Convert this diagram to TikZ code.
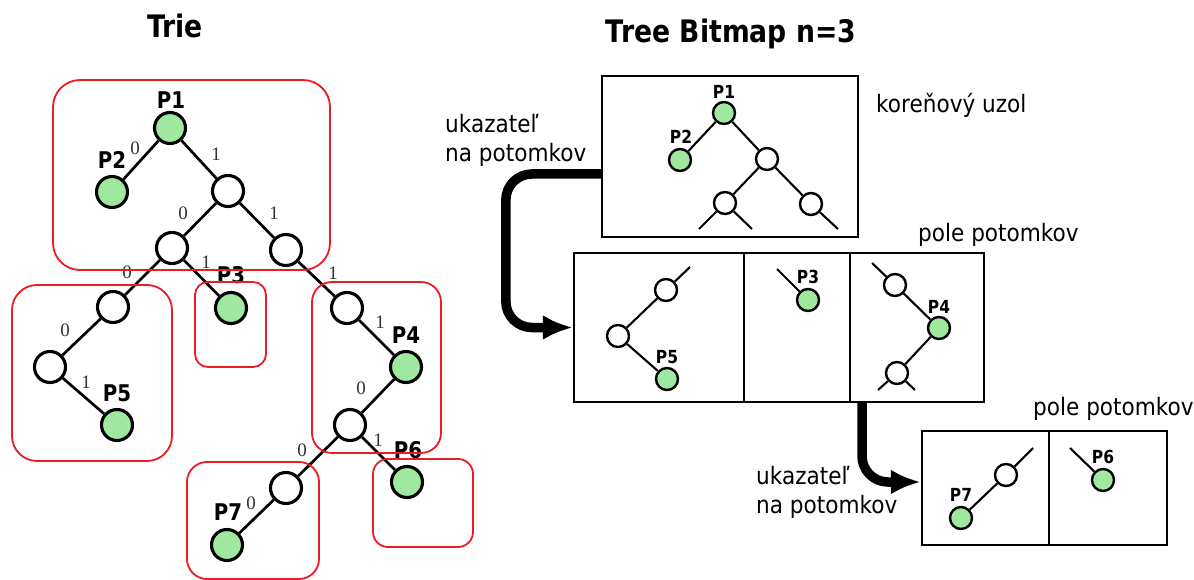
\documentclass[tikz,border=0pt]{standalone}
\usepackage{fontspec}
\newfontfamily\labfont[FakeStretch=0.9]{DejaVu Sans}
\newfontfamily\headfont[FakeStretch=0.86]{DejaVu Sans}
\newfontfamily\digitfont{Liberation Serif}
\usetikzlibrary{arrows.meta}
\definecolor{prefgreen}{RGB}{160,232,160}
\definecolor{boxred}{RGB}{236,28,36}
\definecolor{edgegray}{RGB}{50,50,50}

\begin{document}
\begin{tikzpicture}[x=1pt,y=-1pt,
  tnode/.style={circle,draw=black,line width=3.1pt,minimum size=31pt,inner sep=0pt},
  tpref/.style={tnode,fill=prefgreen},
  tempty/.style={tnode,fill=white},
  tedge/.style={line width=2.7pt},
  blab/.style={font=\headfont\bfseries\fontsize{23}{23}\selectfont,inner sep=0pt},
  bit/.style={font=\digitfont\fontsize{19}{19}\selectfont,text=edgegray,inner sep=0pt},
  group/.style={draw=boxred,line width=1.8pt},
  snode/.style={circle,draw=black,line width=2.4pt,minimum size=22pt,inner sep=0pt},
  spref/.style={snode,fill=prefgreen},
  sempty/.style={snode,fill=white},
  sedge/.style={line width=2.1pt},
  slab/.style={font=\headfont\bfseries\fontsize{18}{18}\selectfont,inner sep=0pt},
  frame/.style={draw=black,line width=2.3pt,inner sep=0pt},
  note/.style={font=\labfont\fontsize{24}{29}\selectfont,inner sep=0pt,align=left},
  title/.style={font=\headfont\bfseries\fontsize{31}{31}\selectfont,inner sep=0pt},
  ptr/.style={line width=9.5pt,-{Latex[length=30pt,width=25pt]},rounded corners=26pt},
]
\useasboundingbox (0,0) rectangle (1194,580);

% ---------- titles ----------
\node[title,anchor=base] (trieT) at (175,38) {Trie};
\node[title,anchor=base] (tbT) at (731,43) {Tree Bitmap n=3};

% ---------- binary trie ----------
\node[tpref]  (P1) at (170,128) {};
\node[tpref]  (P2) at (112,192) {};
\node[tempty] (A)  at (228,191) {};
\node[tempty] (B)  at (172,248) {};
\node[tempty] (C)  at (286,250) {};
\node[tempty] (D)  at (113,307) {};
\node[tpref]  (P3) at (231,308) {};
\node[tempty] (E)  at (347,308) {};
\node[tempty] (F)  at (50,367) {};
\node[tpref]  (P4) at (406,367) {};
\node[tpref]  (P5) at (117,425) {};
\node[tempty] (G)  at (350,425) {};
\node[tempty] (H)  at (286,488) {};
\node[tpref]  (P6) at (407,482) {};
\node[tpref]  (P7) at (227,545) {};

\draw[tedge] (P1) -- (P2);
\draw[tedge] (P1) -- (A);
\draw[tedge] (A) -- (B);
\draw[tedge] (A) -- (C);
\draw[tedge] (B) -- (D);
\draw[tedge] (B) -- (P3);
\draw[tedge] (C) -- (E);
\draw[tedge] (D) -- (F);
\draw[tedge] (F) -- (P5);
\draw[tedge] (E) -- (P4);
\draw[tedge] (P4) -- (G);
\draw[tedge] (G) -- (H);
\draw[tedge] (G) -- (P6);
\draw[tedge] (H) -- (P7);

% bit labels on the trie edges
\node[bit] (b1)  at (135,148) {0};
\node[bit] (b2)  at (216,154) {1};
\node[bit] (b3)  at (183,213) {0};
\node[bit] (b4)  at (274,213) {1};
\node[bit] (b5)  at (127,272) {0};
\node[bit] (b6)  at (206,262) {1};
\node[bit] (b7)  at (333,273) {1};
\node[bit] (b8)  at (65,330)  {0};
\node[bit] (b9)  at (86,382)  {1};
\node[bit] (b10) at (380,322) {1};
\node[bit] (b11) at (361,388) {0};
\node[bit] (b12) at (302,450) {0};
\node[bit] (b13) at (378,440) {1};
\node[bit] (b14) at (251,503) {0};

% prefix names
\node[blab] (lP1) at (171,100) {P1};
\node[blab] (lP2) at (112,160) {P2};
\node[blab] (lP3) at (231,275) {P3};
\node[blab] (lP4) at (406,335) {P4};
\node[blab] (lP5) at (117,393) {P5};
\node[blab] (lP6) at (408,450) {P6};
\node[blab] (lP7) at (228,512) {P7};

% stride groups
\draw[group,rounded corners=27pt] (53,80) rectangle (330,270);
\draw[group,rounded corners=25pt] (12,285) rectangle (172,461);
\draw[group,rounded corners=13pt] (195,282) rectangle (266,367);
\draw[group,rounded corners=20pt] (312,282) rectangle (441,453);
\draw[group,rounded corners=15pt] (373,459) rectangle (473,547);
\draw[group,rounded corners=20pt] (187,462) rectangle (319,579);

% ---------- tree bitmap ----------
\node[frame,minimum width=256pt,minimum height=161pt] (root) at (730,156.5) {};
\node[frame,minimum width=410pt,minimum height=149pt] (mid) at (779,327.5) {};
\node[frame,minimum width=245pt,minimum height=114pt] (bot) at (1044.5,488) {};
\draw[frame] (744,253) -- (744,402);
\draw[frame] (850,253) -- (850,402);
\draw[frame] (1049,431) -- (1049,545);

% root node
\node[spref]  (rP1) at (724,113) {};
\node[spref]  (rP2) at (680,160) {};
\node[sempty] (ra)  at (767,159) {};
\node[sempty] (rb)  at (725,203) {};
\node[sempty] (rc)  at (811,204) {};
\coordinate (rb1) at (699,229);
\coordinate (rb2) at (752,229);
\coordinate (rc1) at (838,229);
\draw[sedge] (rP1) -- (rP2);
\draw[sedge] (rP1) -- (ra);
\draw[sedge] (ra) -- (rb);
\draw[sedge] (ra) -- (rc);
\draw[sedge] (rb) -- (rb1);
\draw[sedge] (rb) -- (rb2);
\draw[sedge] (rc) -- (rc1);
\node[slab] (rlP1) at (724,92) {P1};
\node[slab] (rlP2) at (681,137) {P2};

% first child array
\node[sempty] (m1)  at (666,290) {};
\node[sempty] (m2)  at (618,336) {};
\node[spref]  (mP5) at (667,379) {};
\coordinate (m1s) at (690,267);
\draw[sedge] (m1) -- (m1s);
\draw[sedge] (m1) -- (m2);
\draw[sedge] (m2) -- (mP5);
\node[slab] (mlP5) at (667,357) {P5};

\node[spref] (mP3) at (808,300) {};
\coordinate (m3s) at (777,269);
\draw[sedge] (mP3) -- (m3s);
\node[slab] (mlP3) at (808,277) {P3};

\node[sempty] (n1)  at (895,285) {};
\node[spref]  (mP4) at (939,328) {};
\node[sempty] (n2)  at (897,373) {};
\coordinate (n1s) at (872,263);
\coordinate (n2a) at (878,390);
\coordinate (n2b) at (915,390);
\draw[sedge] (n1) -- (n1s);
\draw[sedge] (n1) -- (mP4);
\draw[sedge] (mP4) -- (n2);
\draw[sedge] (n2) -- (n2a);
\draw[sedge] (n2) -- (n2b);
\node[slab] (mlP4) at (939,307) {P4};

% second child array
\node[sempty] (w)   at (1006,475) {};
\node[spref]  (bP7) at (961,518) {};
\coordinate (ws) at (1033,448);
\draw[sedge] (w) -- (ws);
\draw[sedge] (w) -- (bP7);
\node[slab] (blP7) at (961,495) {P7};

\node[spref] (bP6) at (1103,480) {};
\coordinate (b6s) at (1070,448);
\draw[sedge] (bP6) -- (b6s);
\node[slab] (blP6) at (1103,457) {P6};

% child pointers
\draw[ptr] ([yshift=-17.5pt]root.west) -| ([xshift=-67pt]mid.west) -- (mid.west);
\draw[ptr] ([xshift=83pt]mid.south) |- ([yshift=6pt]bot.west);

% notes (a two-line node sits on the baseline of its last line)
\node[note,anchor=base west] (ptrA) at (445,162) {ukazateľ\\na potomkov};
\node[note,anchor=base west] (ptrB) at (756,513) {ukazateľ\\na potomkov};
\node[note,anchor=base west] (rootN) at (876,113) {koreňový uzol};
\node[note,anchor=base west] (arrA) at (918,242) {pole potomkov};
\node[note,anchor=base west] (arrB) at (1033,415) {pole potomkov};
\end{tikzpicture}
\end{document}
